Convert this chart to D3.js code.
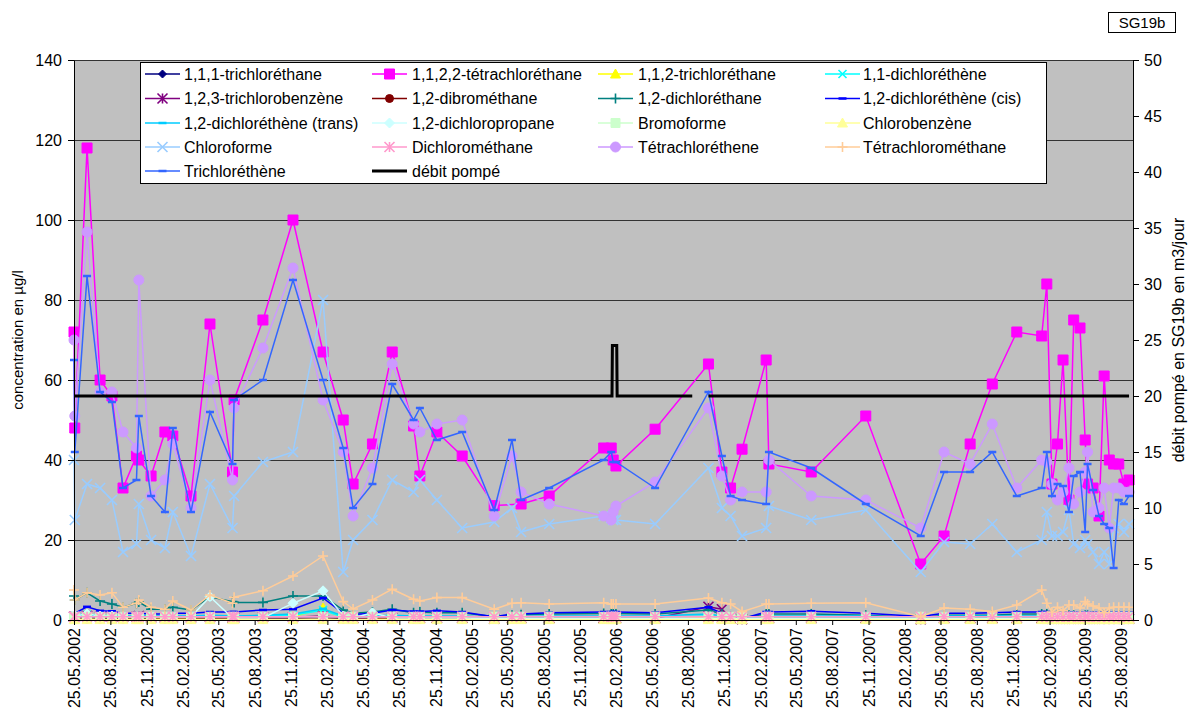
<!DOCTYPE html>
<html>
<head>
<meta charset="utf-8">
<script src="https://cdn.jsdelivr.net/npm/d3@7"></script>
<style>
body { margin: 0; background: #fff; }
text { font-family: "Liberation Sans", Arial, sans-serif; fill: #000; }
</style>
</head>
<body>
<div id="chart"></div>
<script>
const width = 1189;
const height = 711;

// sample dates (one date column shared by all substances)
const dates = [
    "25.05.2002", "27.05.2002", "27.06.2002", "30.07.2002", "29.08.2002", "26.09.2002", "30.10.2002", "05.11.2002", "06.12.2002", "10.01.2003",
    "30.01.2003", "17.03.2003", "04.05.2003", "30.06.2003", "04.07.2003", "15.09.2003", "30.11.2003", "14.02.2004", "05.04.2004", "30.04.2004",
    "18.06.2004", "07.08.2004", "30.09.2004", "16.10.2004", "28.11.2004", "31.01.2005", "22.04.2005", "06.06.2005", "29.06.2005", "08.09.2005",
    "24.01.2006", "12.02.2006", "17.02.2006", "24.02.2006", "03.06.2006", "16.10.2006", "19.11.2006", "11.12.2006", "09.01.2007", "11.03.2007",
    "18.03.2007", "03.07.2007", "18.11.2007", "05.04.2008", "03.06.2008", "08.08.2008", "03.10.2008", "04.12.2008", "05.02.2009", "18.02.2009",
    "03.03.2009", "17.03.2009", "31.03.2009", "15.04.2009", "27.04.2009", "13.05.2009", "26.05.2009", "01.06.2009", "15.06.2009", "30.06.2009",
    "13.07.2009", "26.07.2009", "06.08.2009", "19.08.2009", "01.09.2009", "14.09.2009"
];

const tca111 = [
    0.5, 0.5, 0.8, 0.5, 0.5, 0.5, 0.5, 0.6, 0.4, 0.4,
    0.4, 0.4, 0.5, 0.4, 0.4, 0.5, 0.5, 0.8, 0.3, 0.3,
    0.3, 0.4, 0.3, 0.3, 0.3, 0.3, 0.2, 0.2, 0.2, 0.2,
    0.2, 0.2, 0.2, 0.2, 0.2, 0.3, 0.2, 0.2, 0.2, 0.2,
    0.2, 0.2, 0.2, 0.1, 0.2, 0.2, 0.2, 0.2, 0.2, 0.2,
    0.2, 0.2, 0.2, 0.2, 0.2, 0.2, 0.2, 0.2, 0.2, 0.2,
    0.2, 0.2, 0.2, 0.2, 0.2, 0.2
];
const pca1122 = [
    72, 48, 118, 60, 56, 33, 41, 40, 36, 47,
    46, 31, 74, 37, 55, 75, 100, 67, 50, 34,
    44, 67, 48.5, 36, 47, 41, 28.6, null, 29, 31,
    43, 43, 40, 38.5, 47.7, 64, 37, 33, 42.7, 65,
    39, 37, 51, 14, 21, 44, 59, 72, 71, 84,
    34, 44, 65, 30, 75, 73, 45, 34, 33, 26,
    61, 40, 39, 39, 34, 35
];
const tca112 = [
    0.8, 0.8, 1.2, 0.8, 0.6, 0.6, 0.6, 0.8, 0.5, 0.5,
    0.5, 0.5, 0.6, 0.5, 0.5, 0.6, 0.8, 3, 0.4, 0.3,
    0.4, 0.5, 0.4, 0.4, 0.4, 0.4, 0.2, 0.3, 0.3, 0.3,
    0.3, 0.3, 0.3, 0.3, 0.3, 0.5, 0.3, 0.2, 0.1, 0.3,
    0.3, 0.6, 0.3, 0.1, 0.3, 0.3, 0.3, 0.3, 0.3, 0.3,
    0.2, 0.2, 0.2, 0.2, 0.2, 0.2, 0.2, 0.2, 0.2, 0.2,
    0.2, 0.2, 0.2, 0.2, 0.2, 0.2
];
const dce11 = [
    1, 1, 1.3, 1, 0.9, 0.9, 0.9, 1, 0.8, 0.8,
    0.8, 0.8, 1, 0.8, 0.8, 1, 1.2, 2.5, 0.7, 0.6,
    0.7, 0.8, 0.7, 0.7, 0.7, 0.7, 0.4, 0.5, 0.5, 0.6,
    0.6, 0.6, 0.6, 0.6, 0.6, 1, 0.6, 0.4, 0.2, 0.6,
    0.6, 0.6, 0.6, 0.3, 0.6, 0.6, 0.6, 0.6, 0.6, 0.6,
    0.5, 0.5, 0.5, 0.5, 0.5, 0.5, 0.5, 0.5, 0.5, 0.5,
    0.5, 0.5, 0.5, 0.5, 0.5, 0.5
];
const tcb123 = [
    0.8, 0.8, 1, 0.8, 0.7, 0.7, 0.8, 1, 0.6, 0.6,
    0.6, 0.6, 0.7, 0.6, 0.6, 0.7, 0.7, 1, 0.5, 0.4,
    0.5, 0.6, 0.5, 0.5, 0.5, 0.5, 0.3, 0.4, 0.4, 0.4,
    0.4, 0.4, 0.4, 0.4, 0.4, 3.3, 2.7, 0.4, 0.2, 0.4,
    0.4, 0.4, 0.4, 0.2, 0.4, 0.4, 0.4, 0.4, 0.4, 0.4,
    0.3, 0.3, 0.3, 0.3, 0.3, 0.3, 0.3, 0.3, 0.3, 0.3,
    0.3, 0.3, 0.3, 0.3, 0.3, 0.3
];
const dibromo = [
    0.2, 0.2, 0.2, 0.2, 0.2, 0.2, 0.2, 0.2, 0.2, 0.2,
    0.2, 0.2, 0.2, 0.2, 0.2, 0.2, 0.2, 0.2, 0.2, 0.2,
    0.2, 0.2, 0.2, 0.2, 0.2, 0.2, 0.2, 0.2, 0.2, 0.2,
    0.2, 0.2, 0.2, 0.2, 0.2, 0.2, 0.2, 0.2, 0.2, 0.2,
    0.2, 0.2, 0.2, 0.2, 0.2, 0.2, 0.2, 0.2, 0.2, 0.2,
    0.2, 0.2, 0.2, 0.2, 0.2, 0.2, 0.2, 0.2, 0.2, 0.2,
    0.2, 0.2, 0.2, 0.2, 0.2, 0.2
];
const dca12 = [
    6, 5, 6.8, 4.75, 4, 3.2, 4.2, 4.5, 2.7, 2.7,
    3.2, 2.5, 5.8, 4.6, 4.4, 4.4, 6, 6, 2.5, 1.7,
    2, 2.7, 1.8, 2, 1.8, 1.8, 0.8, 1.2, 1.3, 1.5,
    1.6, 1.6, 1.6, 1.6, 1.5, 2.5, 1.5, 0.8, 0.5, 1.5,
    1.5, 1.5, 1.2, 0.5, 1.2, 1.2, 1.2, 1.5, 1.5, 1.5,
    1.2, 1.2, 1.2, 1.2, 1.2, 1.2, 1.2, 1.2, 1.2, 1.2,
    1.2, 1.2, 1.2, 1.2, 1.2, 1.2
];
const dceCis = [
    1.7, 1.7, 3.3, 2.3, 2.2, 1.7, 1.7, 1.7, 1.5, 1.5,
    1.7, 1.7, 2, 2, 2, 2.5, 2.7, 5.5, 1.7, 1.4,
    1.7, 2.5, 2.1, 2.1, 2.3, 2, 0.8, 1.5, 1.5, 1.8,
    2, 2, 2, 2, 1.8, 3.2, 1.7, 0.8, 0.3, 2,
    2, 2.2, 1.7, 0.9, 1.7, 1.7, 1.8, 2, 2, 2,
    1.8, 1.8, 1.8, 1.8, 1.8, 1.8, 1.8, 1.8, 1.8, 1.8,
    1.8, 1.8, 1.8, 1.8, 1.8, 1.8
];
const dceTrans = [
    1.2, 1.2, 1.5, 1, 1, 1, 1, 1, 1, 1,
    1, 1, 1.2, 1, 1, 1.2, 1.5, 2.8, 1, 0.8,
    1, 1.2, 1, 1, 1, 1, 0.6, 0.8, 0.8, 1,
    1, 1, 1, 1, 1, 1.5, 1, 0.6, 0.3, 1,
    1, 1, 1, 0.5, 1, 1, 1, 1, 1, 1,
    1, 1, 1, 1, 1, 1, 1, 1, 1, 1,
    1, 1, 1, 1, 1, 1
];
const dcpropane = [
    1, 1, 1.5, 1, 1, 0.8, 0.8, 0.8, 0.8, 0.8,
    0.8, 0.8, 5.8, 0.5, 0.5, 0.5, 4.2, 7.3, 1, 0.5,
    1.8, 0.5, 0.5, 0.5, 0.5, 0.5, 0.3, 0.3, 0.3, 0.3,
    0.3, 0.3, 0.3, 0.3, 0.3, 0.3, 0.3, 0.3, 0.3, 0.3,
    0.3, 0.3, 0.3, 0.3, 0.3, 0.3, 0.3, 0.3, 0.3, 0.3,
    0.3, 0.3, 0.3, 0.3, 0.3, 0.3, 0.3, 0.3, 0.3, 0.3,
    0.3, 0.3, 0.3, 0.3, 0.3, 0.3
];
const bromoforme = [
    0.8, 0.8, 0.8, 0.8, 0.8, 0.8, 0.8, 0.8, 0.8, 0.8,
    0.8, 0.8, 0.8, 0.8, 0.8, 0.8, 0.8, 0.8, 0.8, 0.8,
    0.8, 0.8, 0.8, 0.8, 0.8, 0.8, 0.8, 0.8, 0.8, 0.8,
    0.8, 0.8, 0.8, 0.8, 0.8, 0.8, 0.8, 0.8, 0.8, 0.8,
    0.8, 0.8, 0.8, 0.8, 0.8, 0.8, 0.8, 0.8, 0.8, 0.8,
    0.8, 0.8, 0.8, 0.8, 0.8, 0.8, 0.8, 0.8, 0.8, 0.8,
    0.8, 0.8, 0.8, 0.8, 0.8, 0.8
];
const chlorobenzene = [
    0.1, 0.1, 0.1, 0.1, 0.1, 0.1, 0.1, 0.1, 0.1, 0.1,
    0.1, 0.1, 0.1, 0.1, 0.1, 0.1, 0.1, 0.1, 0.1, 0.1,
    0.1, 0.1, 0.1, 0.1, 0.1, 0.1, 0.1, 0.1, 0.1, 0.1,
    0.1, 0.1, 0.1, 0.1, 0.1, 0.1, 0.1, 0.1, 0.1, 0.1,
    0.1, 0.1, 0.1, 0.1, 0.1, 0.1, 0.1, 0.1, 0.1, 0.1,
    0.1, 0.1, 0.1, 0.1, 0.1, 0.1, 0.1, 0.1, 0.1, 0.1,
    0.1, 0.1, 0.1, 0.1, 0.1, 0.1
];
const chloroforme = [
    40, 25, 34, 33, 30, 17, 19, 29, 20, 18,
    27, 16, 34, 23, 31, 39.5, 42, 80, 12, 20,
    25, 35, 32, 35, 30, 23, 24.5, 28, 22, 24,
    26, 25.5, 25, 25, 24, 38, 28, 26, 21, 23,
    28.5, 25, 27.5, 12, 19.5, 19, 24, 17, 20, 27,
    21, 21, 22, 27.5, 19, 18, 20, 19, 17, 14,
    17, 14, 23, 24, 22, 24
];
const dichloromethane = [
    0.8, 0.8, 0.8, 0.8, 0.8, 0.8, 0.8, 0.8, 0.8, 0.8,
    0.8, 0.8, 0.8, 0.8, 0.8, 0.8, 0.8, 0.8, 0.8, 0.8,
    0.8, 0.8, 0.8, 0.8, 0.8, 0.8, 0.8, 0.8, 0.8, 0.8,
    0.8, 0.8, 0.8, 0.8, 0.8, 0.8, 0.8, 0.8, 0.8, 0.8,
    0.8, 0.8, 0.8, 0.8, 0.8, 0.8, 0.8, 0.8, 0.8, 0.8,
    0.8, 0.8, 0.8, 0.8, 0.8, 0.8, 0.8, 0.8, 0.8, 0.8,
    0.8, 0.8, 0.8, 0.8, 0.8, 0.8
];
const pce = [
    70, 51, 97, 57, 57, 47, 43, 85, 31, 35,
    44, 28, 60, 35, 53, 68, 88, 55, 42, 26,
    38, 64, 49, 47, 49, 50, 26, 41, 32, 29,
    26, 25, 27, 28.5, 34.5, 53, 36, 30, 32, 32,
    40, 31, 30, 23, 42, 39, 49, 33, 40, 39.5,
    34, 30, 32, 38, 29, 32, 37, 42, 27, 28,
    33, 23, 33, 33, 32, 32
];
const tetrachloromethane = [
    7.5, 5, 6.8, 6.25, 6.8, 3.2, 4.2, 5, 3.2, 2.7,
    4.75, 2.5, 6.25, 4.2, 5.7, 7.3, 11, 16, 4.6, 2.75,
    5, 7.7, 5.2, 4.75, 5.6, 5.6, 2.7, 4.2, 4.3, 4,
    4.3, 4, 4, 4, 4, 5.5, 4.3, 4, 2.1, 4,
    4, 4.2, 4.3, 0.8, 3, 2.7, 2.1, 3.75, 7.5, 4.2,
    2, 3.2, 2.3, 3.75, 3.75, 3, 4.6, 4, 3.5, 3,
    1.8, 3, 3.2, 3.2, 3.2, 3.2
];
const tce = [
    65, 42, 86, 57, 54.5, 33, 35, 51, 31, 27,
    48, 27, 52, 39, 55, 60, 85, 60, 43, 28,
    34, 59, 50, 53, 45, 47, 27.5, 45, 30, 33,
    40, 42, 39.5, 39.5, 33, 57, 41, 31, 30, 29,
    42, 38, 29, 21, 37, 37, 42, 31, 33, 42,
    31, 34, 33.5, 27, 36, 37, 22, 39, 32.5, 26,
    24, 23, 13, 30, 29, 31
];

// pumped flow (secondary axis), null = no pumping recorded
const debitDates = ["25.05.2002", "14.02.2006", "15.02.2006", "26.02.2006", "27.02.2006", "05.09.2006", "06.09.2006", "16.10.2006", "14.09.2009"];
const debitValues = [20, 20, 24.5, 24.5, 20, 20, null, 20, 20];

const tickLabels = [
    "25.05.2002", "25.08.2002", "25.11.2002",
    "25.02.2003", "25.05.2003", "25.08.2003", "25.11.2003",
    "25.02.2004", "25.05.2004", "25.08.2004", "25.11.2004",
    "25.02.2005", "25.05.2005", "25.08.2005", "25.11.2005",
    "25.02.2006", "25.05.2006", "25.08.2006", "25.11.2006",
    "25.02.2007", "25.05.2007", "25.08.2007", "25.11.2007",
    "25.02.2008", "25.05.2008", "25.08.2008", "25.11.2008",
    "25.02.2009", "25.05.2009", "25.08.2009"
];
const yTicks = [0, 20, 40, 60, 80, 100, 120, 140];
const y2Ticks = [0, 5, 10, 15, 20, 25, 30, 35, 40, 45, 50];

const series = [
    {name: "1,1,1-trichloréthane", values: tca111, color: "#000080", marker: "diamond", size: 4},
    {name: "1,1,2,2-tétrachloréthane", values: pca1122, color: "#FF00FF", marker: "square", size: 5},
    {name: "1,1,2-trichloréthane", values: tca112, color: "#FFFF00", marker: "triangle", size: 5},
    {name: "1,1-dichloréthène", values: dce11, color: "#00FFFF", marker: "x", size: 4},
    {name: "1,2,3-trichlorobenzène", values: tcb123, color: "#800080", marker: "asterisk", size: 5},
    {name: "1,2-dibrométhane", values: dibromo, color: "#800000", marker: "circle", size: 4},
    {name: "1,2-dichloréthane", values: dca12, color: "#008080", marker: "plus", size: 5},
    {name: "1,2-dichloréthène (cis)", values: dceCis, color: "#0000FF", marker: "dash", size: 4},
    {name: "1,2-dichloréthène (trans)", values: dceTrans, color: "#00CCFF", marker: "dash", size: 4},
    {name: "1,2-dichloropropane", values: dcpropane, color: "#CCFFFF", marker: "diamond", size: 5},
    {name: "Bromoforme", values: bromoforme, color: "#CCFFCC", marker: "square", size: 4.5},
    {name: "Chlorobenzène", values: chlorobenzene, color: "#FFFF99", marker: "triangle", size: 5},
    {name: "Chloroforme", values: chloroforme, color: "#99CCFF", marker: "x", size: 5},
    {name: "Dichlorométhane", values: dichloromethane, color: "#FF99CC", marker: "asterisk", size: 5},
    {name: "Tétrachloréthene", values: pce, color: "#CC99FF", marker: "circle", size: 5},
    {name: "Tétrachlorométhane", values: tetrachloromethane, color: "#FFCC99", marker: "plus", size: 5},
    {name: "Trichloréthène", values: tce, color: "#3366FF", marker: "dash", size: 4}
];

const parseDate = d3.timeParse("%d.%m.%Y");

const plot = {left: 74, right: 1133, top: 60, bottom: 620};

const svg = d3.select("#chart")
    .append("svg")
    .attr("width", width)
    .attr("height", height);

const x = d3.scaleTime()
    .domain([parseDate("25.05.2002"), parseDate("24.09.2009")])
    .range([plot.left, plot.right]);

const y = d3.scaleLinear()
    .domain([0, 140])
    .range([plot.bottom, plot.top]);

const y2 = d3.scaleLinear()
    .domain([0, 50])
    .range([plot.bottom, plot.top]);

// plot background
svg.append("rect")
    .attr("x", plot.left)
    .attr("y", plot.top)
    .attr("width", plot.right - plot.left)
    .attr("height", plot.bottom - plot.top)
    .attr("fill", "#C0C0C0");

// horizontal gridlines
svg.append("g")
    .attr("transform", `translate(${plot.left},0)`)
    .call(d3.axisLeft(y).tickValues(yTicks).tickSize(-(plot.right - plot.left)).tickFormat(""))
    .call(g => g.select(".domain").remove())
    .call(g => g.selectAll("line").attr("stroke", "#333"));

// markers
function markerPath(type, s) {
    switch (type) {
        case "square": return `M${-s},${-s}H${s}V${s}H${-s}Z`;
        case "diamond": return `M0,${-s}L${s},0L0,${s}L${-s},0Z`;
        case "triangle": return `M0,${-s}L${s},${s * 0.8}L${-s},${s * 0.8}Z`;
        case "circle": return `M${-s},0A${s},${s} 0 1,0 ${s},0A${s},${s} 0 1,0 ${-s},0Z`;
        case "x": return `M${-s},${-s}L${s},${s}M${-s},${s}L${s},${-s}`;
        case "plus": return `M${-s},0H${s}M0,${-s}V${s}`;
        case "asterisk": return `M${-s},${-s}L${s},${s}M${-s},${s}L${s},${-s}M0,${-s}V${s}`;
        case "dash": return `M${-s},0H${s}`;
    }
}
const filled = ["square", "diamond", "triangle", "circle"];

function drawMarker(sel, s) {
    const isFilled = filled.includes(s.marker);
    sel.attr("d", markerPath(s.marker, s.size))
        .attr("fill", isFilled ? s.color : "none")
        .attr("stroke", s.color)
        .attr("stroke-width", s.marker === "dash" ? 2.5 : (isFilled ? 1 : 1.6));
}

const line = d3.line()
    .x(d => x(d.date))
    .y(d => y(d.v));

const seriesG = svg.append("g");

series.forEach(s => {
    const data = dates
        .map((d, i) => ({date: parseDate(d), v: s.values[i]}))
        .filter(d => d.v != null);

    const g = seriesG.append("g");

    g.append("path")
        .datum(data)
        .attr("fill", "none")
        .attr("stroke", s.color)
        .attr("stroke-width", 1.5)
        .attr("d", line);

    g.selectAll(".mk")
        .data(data)
        .join("path")
        .attr("class", "mk")
        .attr("transform", d => `translate(${x(d.date)},${y(d.v)})`)
        .call(drawMarker, s);
});

// pumped flow on secondary axis
const debitData = debitDates.map((d, i) => ({date: parseDate(d), v: debitValues[i]}));

svg.append("path")
    .datum(debitData)
    .attr("fill", "none")
    .attr("stroke", "#000")
    .attr("stroke-width", 3)
    .attr("d", d3.line()
        .defined(d => d.v != null)
        .x(d => x(d.date))
        .y(d => y2(d.v)));

// axes
const axisLeft = svg.append("g")
    .attr("transform", `translate(${plot.left},0)`)
    .call(d3.axisLeft(y).tickValues(yTicks).tickSize(6).tickSizeOuter(0).tickPadding(6));

const axisRight = svg.append("g")
    .attr("transform", `translate(${plot.right},0)`)
    .call(d3.axisRight(y2).tickValues(y2Ticks).tickSize(6).tickSizeOuter(0).tickPadding(5));

const axisBottom = svg.append("g")
    .attr("transform", `translate(0,${plot.bottom})`)
    .call(d3.axisBottom(x)
        .tickValues(tickLabels.map(parseDate))
        .tickSize(5)
        .tickSizeOuter(0)
        .tickFormat((d, i) => tickLabels[i]));

axisBottom.selectAll("text")
    .attr("transform", "rotate(-90)")
    .attr("text-anchor", "end")
    .attr("x", -8)
    .attr("y", 0)
    .attr("dy", "0.35em");

[axisLeft, axisRight, axisBottom].forEach(a => {
    a.attr("font-family", "Liberation Sans, Arial, sans-serif").attr("font-size", 16);
    a.selectAll("text").attr("fill", "#000");
    a.selectAll("line, .domain").attr("stroke", "#000");
});

// axis titles
svg.append("text")
    .attr("transform", `translate(18,${(plot.top + plot.bottom) / 2}) rotate(-90)`)
    .attr("text-anchor", "middle")
    .attr("dy", "0.35em")
    .style("font-size", "15px")
    .text("concentration en µg/l");

svg.append("text")
    .attr("transform", `translate(1178,${(plot.top + plot.bottom) / 2}) rotate(-90)`)
    .attr("text-anchor", "middle")
    .attr("dy", "0.35em")
    .style("font-size", "16px")
    .text("débit pompé en SG19b en m3/jour");

// legend
const legend = svg.append("g");

legend.append("rect")
    .attr("x", 140.5)
    .attr("y", 62.5)
    .attr("width", 906)
    .attr("height", 121)
    .attr("fill", "#fff")
    .attr("stroke", "#000");

const colLine = [145, 372, 598, 825];
const colText = [184, 412, 638, 863];
const rowY = [74, 98.5, 123, 147, 171];

const legendItems = series.concat([{name: "débit pompé", color: "#000", marker: null}]);

legendItems.forEach((s, i) => {
    const col = i % 4;
    const row = Math.floor(i / 4);
    const item = legend.append("g")
        .attr("transform", `translate(${colLine[col]},${rowY[row]})`);

    item.append("line")
        .attr("x1", 0)
        .attr("x2", 35)
        .attr("stroke", s.color)
        .attr("stroke-width", s.marker ? 1.5 : 3);

    if (s.marker) {
        item.append("path")
            .attr("transform", "translate(17.5,0)")
            .call(drawMarker, s);
    }

    legend.append("text")
        .attr("x", colText[col])
        .attr("y", rowY[row])
        .attr("dy", "0.35em")
        .style("font-size", "16px")
        .text(s.name);
});

// well label
svg.append("rect")
    .attr("x", 1108.5)
    .attr("y", 12.5)
    .attr("width", 67)
    .attr("height", 20)
    .attr("fill", "#fff")
    .attr("stroke", "#000");

svg.append("text")
    .attr("x", 1142)
    .attr("y", 23)
    .attr("dy", "0.35em")
    .attr("text-anchor", "middle")
    .style("font-size", "15px")
    .text("SG19b");
</script>
</body>
</html>
